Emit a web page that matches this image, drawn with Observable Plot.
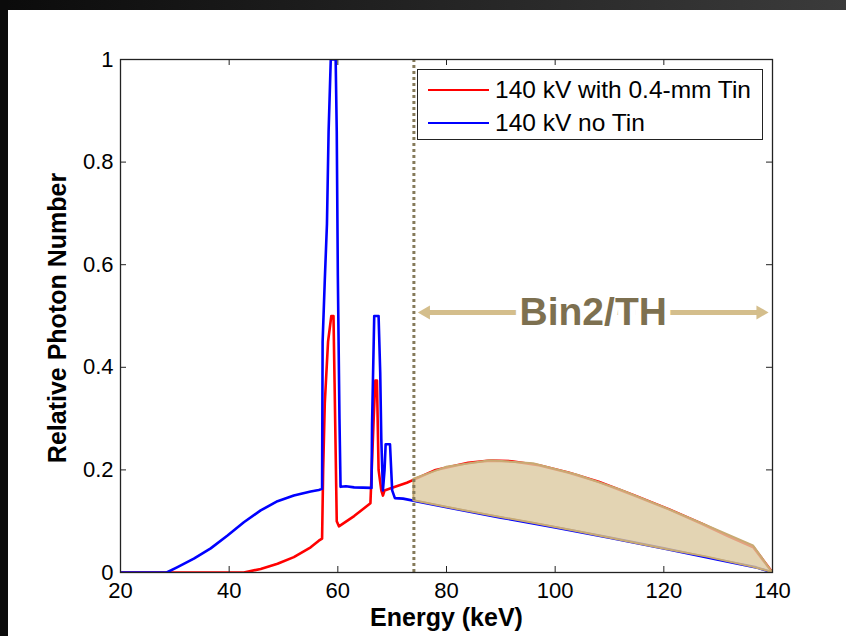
<!DOCTYPE html>
<html>
<head>
<meta charset="utf-8">
<script src="https://cdn.jsdelivr.net/npm/d3@7"></script>
<script src="https://cdn.jsdelivr.net/npm/@observablehq/plot@0.6"></script>
<style>
  html, body { margin: 0; padding: 0; background: #ffffff; }
  #wrap { position: relative; width: 846px; height: 636px; overflow: hidden; background: #ffffff; font-family: "Liberation Sans", Arial, sans-serif; }
  #topband { position: absolute; left: 0; top: 0; width: 846px; height: 10px; background: linear-gradient(to right, #0b0b0b, #3b3b3b); }
  #leftband { position: absolute; left: 0; top: 0; width: 8px; height: 636px; background: #0b0b0b; }
  #legend { position: absolute; left: 417px; top: 69px; width: 344px; height: 69px; border: 1.3px solid #222; background: #fff; }
  .entry { position: absolute; left: 10px; height: 30px; display: flex; align-items: center; font-size: 24.5px; color: #000; white-space: nowrap; }
  .swatch { width: 61px; height: 2.5px; margin-right: 6px; }
</style>
</head>
<body>
<div id="wrap">
  <div id="chart"></div>
  <div id="legend"></div>
  <div id="topband"></div>
  <div id="leftband"></div>
</div>
<script>
// ---- Data ----
const seriesNames = ["140 kV with 0.4-mm Tin", "140 kV no Tin"];
const seriesColors = ["#ff0000", "#0000ff"];

// 140 kV with 0.4-mm Tin (red)
const energyTin = [20, 42.7, 45.8, 48.9, 51.9, 55, 56.5, 57.1, 57.3, 57.6, 58.2, 58.8, 59.2, 59.4, 59.8, 60.2, 63, 66.0, 66.6, 66.9, 67.2, 67.5, 68.0, 68.3, 68.6, 70, 72.7, 74, 78, 84, 88, 92, 97, 102.4, 108, 114.6, 121, 127, 132, 136.5, 140];
const photonTin = [0, 0, 0.007, 0.017, 0.030, 0.049, 0.062, 0.066, 0.20, 0.33, 0.45, 0.50, 0.50, 0.37, 0.10, 0.09, 0.11, 0.135, 0.30, 0.374, 0.374, 0.20, 0.16, 0.15, 0.16, 0.165, 0.175, 0.181, 0.200, 0.214, 0.218, 0.217, 0.209, 0.195, 0.177, 0.150, 0.123, 0.095, 0.070, 0.049, 0];

// 140 kV no Tin (blue)
const energyNoTin = [20, 28.5, 30.4, 33.5, 36.6, 39.7, 42.7, 45.8, 48.9, 51.9, 55, 56.5, 57.1, 57.2, 57.6, 58.0, 58.3, 58.7, 59.6, 59.8, 60.0, 60.3, 60.5, 61.5, 63, 66.2, 66.3, 66.7, 67.5, 67.8, 68.0, 68.3, 68.6, 68.8, 69.6, 70.0, 70.5, 72, 80, 90, 100, 110, 120, 130, 137, 140];
const photonNoTin = [0, 0, 0.010, 0.027, 0.047, 0.072, 0.098, 0.121, 0.139, 0.150, 0.158, 0.161, 0.163, 0.45, 0.57, 0.68, 0.86, 1.0, 1.0, 0.86, 0.58, 0.30, 0.167, 0.168, 0.166, 0.165, 0.29, 0.50, 0.50, 0.39, 0.26, 0.16, 0.20, 0.25, 0.25, 0.16, 0.145, 0.144, 0.127, 0.107, 0.088, 0.068, 0.047, 0.025, 0.010, 0];

// Shaded Bin2/TH band between the two spectra
const bandEnergy = [74, 80, 88, 96, 104, 112, 120, 128, 136.5, 140];
const bandUpper = [0.182, 0.205, 0.218, 0.212, 0.190, 0.161, 0.127, 0.091, 0.052, 0];
const bandLower = [0.140, 0.127, 0.111, 0.096, 0.080, 0.063, 0.046, 0.030, 0.010, 0];

// Threshold and annotation
const thresholdEnergy = [74];
const binRange = [74, 140];
const binLevel = 0.507;
const binLabel = "Bin2/TH";

// Axes
const xTicks = [20, 40, 60, 80, 100, 120, 140];
const yTicks = [0, 0.2, 0.4, 0.6, 0.8, 1];
const yTickLabels = ["0", "0.2", "0.4", "0.6", "0.8", "1"];
const xLabel = "Energy (keV)";
const yLabel = "Relative Photon Number";

// ---- Tables ----
const tin = energyTin.map((e, i) => ({energy: e, value: photonTin[i]}));
const noTin = energyNoTin.map((e, i) => ({energy: e, value: photonNoTin[i]}));
const band = bandEnergy.map((e, i) => ({energy: e, upper: bandUpper[i], lower: bandLower[i]}));
const arrow = [{x1: binRange[0], x2: binRange[1], y: binLevel}];
const heads = [{x: binRange[0], y: binLevel, rot: -90, shift: 12}, {x: binRange[1], y: binLevel, rot: 90, shift: -12}];
const mid = [{x: (binRange[0] + binRange[1]) / 2, y: binLevel, t: binLabel}];

const font = "Liberation Sans, Arial, sans-serif";
const tan = "#d4be8c";
const W = 846, H = 636, ML = 120, MR = 74, MT = 59, MB = 64;
const fw = W - ML - MR, fh = H - MT - MB, tick = 6;

const chart = Plot.plot({
  width: W,
  height: H,
  marginLeft: ML,
  marginRight: MR,
  marginTop: MT,
  marginBottom: MB,
  style: {fontFamily: font, background: "transparent", color: "#000"},
  x: {domain: [20, 140]},
  y: {domain: [0, 1]},
  marks: [
    Plot.line(tin, {x: "energy", y: "value", stroke: seriesColors[0], strokeWidth: 2.6, clip: true}),
    Plot.line(noTin, {x: "energy", y: "value", stroke: seriesColors[1], strokeWidth: 2.6, clip: true}),
    Plot.areaY(band, {x: "energy", y1: "lower", y2: "upper", fill: "#dcc9a0", fillOpacity: 0.8, stroke: "#c8aa72", strokeWidth: 2}),
    Plot.ruleX(thresholdEnergy, {stroke: "#857a5a", strokeWidth: 3, strokeDasharray: "3,3"}),
    Plot.ruleY(arrow, {x1: "x1", x2: "x2", y: "y", stroke: tan, strokeWidth: 5, insetLeft: 10, insetRight: 10}),
    Plot.dot(heads, {x: "x", y: "y", symbol: "triangle", r: 5.2, rotate: "rot", fill: tan, stroke: null}),
    Plot.text(mid, {x: "x", y: "y", text: "t", fontSize: 39, fontWeight: "bold", fill: "#7d7050", stroke: "#ffffff", strokeWidth: 12, paintOrder: "stroke"}),
    Plot.frame({stroke: "#222", strokeWidth: 1.3}),
    // inward ticks on all four sides
    Plot.tickX(xTicks, {x: d => d, insetTop: fh - tick, stroke: "#222"}),
    Plot.tickX(xTicks, {x: d => d, insetBottom: fh - tick, stroke: "#222"}),
    Plot.tickY(yTicks, {y: d => d, insetRight: fw - tick, stroke: "#222"}),
    Plot.tickY(yTicks, {y: d => d, insetLeft: fw - tick, stroke: "#222"}),
    Plot.axisX(xTicks, {anchor: "bottom", tickSize: 0, tickPadding: 10, fontSize: 22, label: null}),
    Plot.axisY(yTicks, {anchor: "left", tickSize: 0, tickPadding: 7, fontSize: 22, tickFormat: (d, i) => yTickLabels[i], label: null}),
    Plot.text([xLabel], {text: d => d, frameAnchor: "bottom", dy: 53, fontSize: 25, fontWeight: "bold"}),
    Plot.text([yLabel], {text: d => d, frameAnchor: "left", textAnchor: "middle", dx: -63, dy: 2, rotate: -90, fontSize: 25, fontWeight: "bold"})
  ]
});

// shift the arrow heads so their tips sit just inside the range
chart.querySelectorAll("[aria-label=dot] path").forEach((p, i) => {
  const t = p.getAttribute("transform") || "";
  p.setAttribute("transform", `translate(${heads[i].shift},0) ` + t);
});

document.getElementById("chart").appendChild(chart);

const legend = document.getElementById("legend");
seriesNames.forEach((name, i) => {
  const row = document.createElement("div");
  row.className = "entry";
  row.style.top = (5 + i * 33) + "px";
  const sw = document.createElement("div");
  sw.className = "swatch";
  sw.style.background = seriesColors[i];
  const tx = document.createElement("span");
  tx.textContent = name;
  row.appendChild(sw);
  row.appendChild(tx);
  legend.appendChild(row);
});
</script>
</body>
</html>
